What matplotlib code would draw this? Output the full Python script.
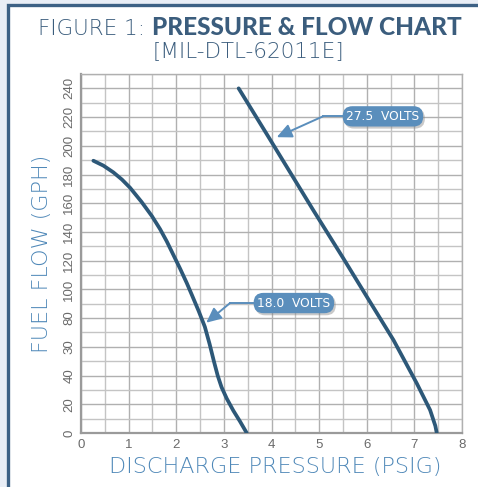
import matplotlib
matplotlib.use("Agg")
import matplotlib.pyplot as plt
from matplotlib.patches import Rectangle
from matplotlib.ticker import MultipleLocator, FixedLocator
import matplotlib.patheffects as pe

# ---- data ----
pressure_18v = [0.26, 0.47, 0.68, 0.86, 1.03, 1.27, 1.49, 1.66, 1.80, 1.94, 2.08, 2.22,
                2.33, 2.47, 2.60, 2.70, 2.79, 2.87, 2.95, 3.06, 3.20, 3.34, 3.48]
flow_18v = [189.6, 186.2, 181.5, 176.5, 170.8, 161.0, 151.0, 142.0, 133.5, 124.0, 114.5, 104.5,
            96.0, 85.0, 74.0, 62.0, 50.0, 40.0, 32.0, 24.0, 15.5, 8.0, 0.0]

pressure_275v = [3.31, 3.94, 4.88, 5.49, 6.00, 6.56, 7.05, 7.33, 7.44, 7.47]
flow_275v = [240.0, 206.0, 155.0, 122.6, 95.0, 64.8, 34.6, 16.0, 5.0, 0.0]

x_ticks = [0, 1, 2, 3, 4, 5, 6, 7, 8]
x_tick_labels = ["0", "1", "2", "3", "4", "5", "6", "7", "8"]
y_ticks = [0, 20, 40, 60, 80, 100, 120, 140, 160, 180, 200, 220, 240]
y_tick_labels = ["0", "20", "40", "30", "80", "100", "120", "140", "160", "180", "200", "220", "240"]

label_275 = "27.5  VOLTS"
label_18 = "18.0  VOLTS"

title_light = "FIGURE 1:"
title_bold = "PRESSURE & FLOW CHART"
subtitle = "[MIL-DTL-62011E]"
x_label = "DISCHARGE PRESSURE (PSIG)"
y_label = "FUEL FLOW (GPH)"

# ---- styling ----
W, H = 478, 487
DPI = 100
bg_outer = "#e9eef6"
border_col = "#3d6185"
title_col = "#3b5d7d"
axis_label_col = "#4f88b8"
curve_col = "#2d5878"
callout_col = "#5a8ebc"
grid_col = "#c4c4c4"
grid_major_col = "#b0b0b0"
thin_font = ["DejaVu Sans", "Lato"]

fig = plt.figure(figsize=(W / DPI, H / DPI), dpi=DPI)
fig.patch.set_facecolor(bg_outer)

panel = Rectangle((8 / W, -0.05), 1.2, 1 - 5 / H + 0.05, transform=fig.transFigure,
                  facecolor="white", edgecolor=border_col, linewidth=2.4, zorder=-5)
fig.patches.append(panel)

ax = fig.add_axes([81 / W, (H - 433) / H, (462 - 81) / W, (433 - 74) / H])
ax.set_facecolor("white")
ax.set_xlim(0, 8)
ax.set_ylim(0, 250)

ax.xaxis.set_major_locator(FixedLocator(x_ticks))
ax.set_xticklabels(x_tick_labels)
ax.xaxis.set_minor_locator(MultipleLocator(0.5))
ax.yaxis.set_major_locator(FixedLocator(y_ticks))
ax.set_yticklabels(y_tick_labels, rotation=90, va="center")
ax.yaxis.set_minor_locator(MultipleLocator(10))

ax.grid(which="major", color=grid_major_col, linewidth=1.0)
ax.grid(which="minor", color=grid_col, linewidth=1.0)
ax.set_axisbelow(True)
ax.tick_params(which="both", length=0)
ax.tick_params(axis="x", pad=4, labelsize=9.5, labelcolor="#6a6a6a")
ax.tick_params(axis="y", pad=4, labelsize=9.5, labelcolor="#6a6a6a")
for lab in ax.get_xticklabels() + ax.get_yticklabels():
    lab.set_fontfamily(["Liberation Sans Narrow", "Liberation Sans", "DejaVu Sans"])

for side in ["top", "right"]:
    ax.spines[side].set_color(grid_major_col)
    ax.spines[side].set_linewidth(1.0)
for side in ["left", "bottom"]:
    ax.spines[side].set_color("#9a9a9a")
    ax.spines[side].set_linewidth(1.6)

ax.plot(pressure_18v, flow_18v, color=curve_col, linewidth=2.7,
        solid_capstyle="round", solid_joinstyle="round", zorder=3)
ax.plot(pressure_275v, flow_275v, color=curve_col, linewidth=2.7,
        solid_capstyle="round", solid_joinstyle="round", zorder=3)


def callout(text, box_xy, corner_xy, tip_xy):
    t = ax.text(box_xy[0], box_xy[1], text, ha="center", va="center", color="white",
                fontsize=8.8, family=["DejaVu Sans"], zorder=6,
                bbox=dict(boxstyle="round,pad=0.3,rounding_size=0.8",
                          facecolor=callout_col, edgecolor="none"))
    t.get_bbox_patch().set_path_effects([
        pe.SimplePatchShadow(offset=(1.2, -1.5), shadow_rgbFace="#888888", alpha=0.45),
        pe.Normal()])
    ax.plot([box_xy[0], corner_xy[0]], [box_xy[1], corner_xy[1]],
            color=callout_col, linewidth=1.4, zorder=4)
    ax.annotate("", xy=tip_xy, xytext=corner_xy, zorder=5,
                arrowprops=dict(arrowstyle="-|>,head_length=0.9,head_width=0.42",
                                color=callout_col, linewidth=1.4,
                                shrinkA=0, shrinkB=0))


callout(label_275, (6.34, 220.5), (5.08, 220.5), (4.11, 206.0))
callout(label_18, (4.47, 90.5), (3.13, 90.5), (2.63, 76.8))

# ---- titles ----
fig.text(145 / W, 1 - 35 / H, title_light, ha="right", va="baseline", color=title_col,
         fontsize=15.5, family=thin_font, fontweight="light")
fig.text(152 / W, 1 - 35 / H, title_bold, ha="left", va="baseline", color=title_col,
         fontsize=17.6, family=["Lato", "DejaVu Sans"], fontweight="black")
fig.text(248 / W, 1 - 57 / H, subtitle, ha="center", va="baseline", color=title_col,
         fontsize=15.5, family=thin_font, fontweight="light")

fig.text(275 / W, 1 - 473 / H, x_label, ha="center", va="baseline", color=axis_label_col,
         fontsize=16, family=thin_font, fontweight="light")
fig.text(42 / W, 1 - 254 / H, y_label, ha="center", va="center", rotation=90,
         color=axis_label_col, fontsize=16, family=thin_font, fontweight="light")

fig.savefig("out.png", dpi=DPI, facecolor=fig.get_facecolor())
